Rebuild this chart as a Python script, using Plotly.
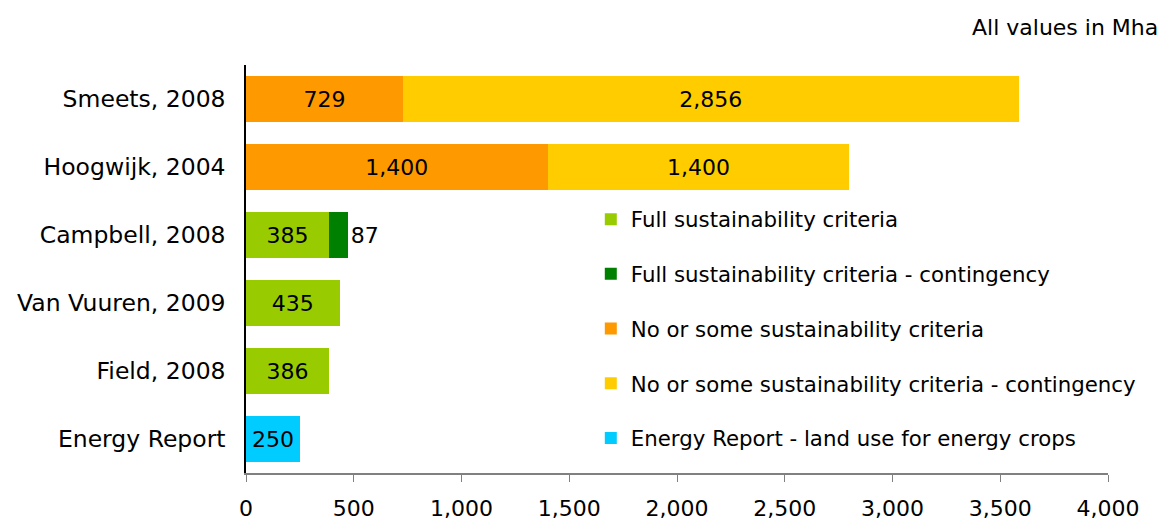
import plotly.graph_objects as go

categories = ["Smeets, 2008", "Hoogwijk, 2004", "Campbell, 2008",
              "Van Vuuren, 2009", "Field, 2008", "Energy Report"]

full = [None, None, 385, 435, 386, None]
full_cont = [None, None, 87, None, None, None]
some = [729, 1400, None, None, None, None]
some_cont = [2856, 1400, None, None, None, None]
energy = [None, None, None, None, None, 250]

series = [
    ("Full sustainability criteria", full, "#99CC00", "inside"),
    ("Full sustainability criteria - contingency", full_cont, "#008000", "outside"),
    ("No or some sustainability criteria", some, "#FF9900", "inside"),
    ("No or some sustainability criteria - contingency", some_cont, "#FFCC00", "inside"),
    ("Energy Report - land use for energy crops", energy, "#00CCFF", "inside"),
]

FONT = "Verdana, DejaVu Sans, sans-serif"

fig = go.Figure()
for i, (name, vals, color, pos) in enumerate(series):
    fig.add_trace(go.Bar(
        y=categories, x=vals, name=name, orientation="h",
        marker=dict(color=color, line=dict(width=0)),
        texttemplate="%{x:,}", textposition=pos,
        insidetextanchor="middle", textangle=0, constraintext="none",
        insidetextfont=dict(size=22, color="black", family=FONT),
        outsidetextfont=dict(size=22, color="black", family=FONT),
        cliponaxis=False, legendgroup=f"g{i}",
    ))

# page body has an 8px margin, so the figure is sized to fit the 1170x520 window
fig.update_layout(
    width=1162, height=512,
    barmode="stack", bargap=0.32,
    plot_bgcolor="white", paper_bgcolor="white",
    font=dict(family=FONT, size=20, color="black"),
    margin=dict(l=238, r=62, t=57, b=47),
    xaxis=dict(range=[0, 4000], dtick=500, tickformat=",", showgrid=False,
               showline=True, linecolor="#808080", linewidth=2,
               ticks="outside", ticklen=7, tickcolor="#808080", tickwidth=1,
               ticklabelstandoff=8,
               tickfont=dict(size=22), zeroline=False, automargin=False),
    yaxis=dict(range=[5.5, -0.5], showgrid=False, showline=True,
               linecolor="black", linewidth=1.5, ticks="", ticklabelstandoff=14,
               tickfont=dict(size=23.5), automargin=False),
    legend=dict(x=0.4, y=0.672, xanchor="left", yanchor="top",
                traceorder="grouped", tracegroupgap=24,
                font=dict(size=21.3), bgcolor="rgba(0,0,0,0)", itemwidth=30),
    annotations=[dict(text="All values in Mha", xref="paper", yref="paper",
                      x=1.06, y=1.0, yshift=38, xanchor="right", yanchor="middle",
                      showarrow=False, font=dict(size=22))],
)

fig.write_html("out.html")
